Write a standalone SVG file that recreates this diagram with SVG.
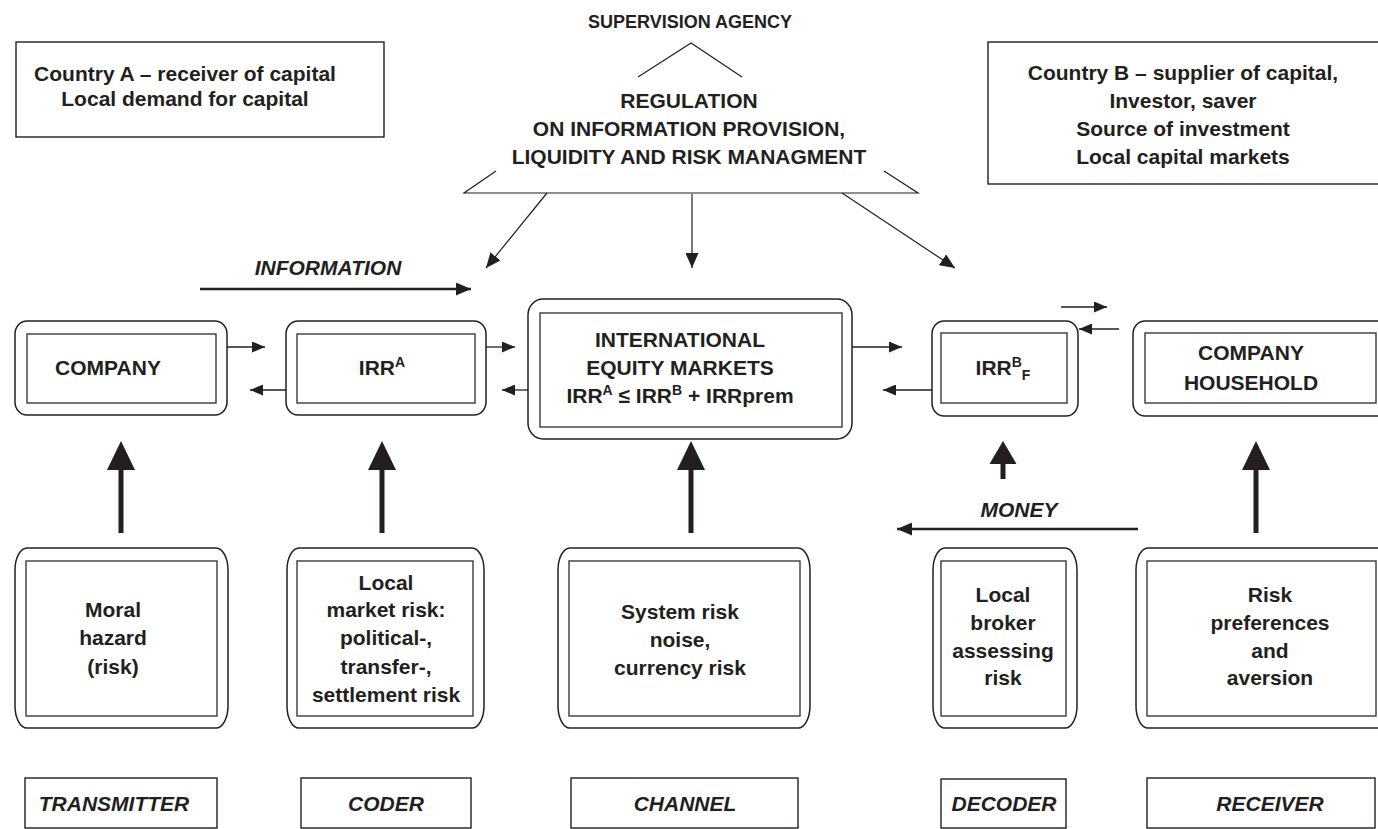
<svg xmlns="http://www.w3.org/2000/svg" width="1378" height="829" viewBox="0 0 1378 829">
<defs>
<style>
text{font-family:"Liberation Sans",Arial,sans-serif;font-weight:bold;font-size:21px;fill:#231f20;text-anchor:middle}
.it{font-style:italic}
.box{fill:none;stroke:#231f20;stroke-width:1.4}
.outer{fill:#fff;stroke:#231f20;stroke-width:1.5}
.inner{fill:none;stroke:#3a3a3a;stroke-width:1.4}
.ln{fill:none;stroke:#231f20;stroke-width:1.3}
.thin{fill:none;stroke:#231f20;stroke-width:1.2}
.bold{fill:none;stroke:#231f20;stroke-width:2.6}
.big{fill:#231f20;stroke:none}
</style>
<marker id="ah" markerUnits="userSpaceOnUse" markerWidth="13" markerHeight="11" refX="13" refY="5.5" orient="auto"><path d="M0,0 L13,5.5 L0,11 z" fill="#231f20"/></marker>
<marker id="ahL" markerUnits="userSpaceOnUse" markerWidth="15" markerHeight="13" refX="15" refY="6.5" orient="auto"><path d="M0,0 L15,6.5 L0,13 z" fill="#231f20"/></marker>
</defs>
<rect width="1378" height="829" fill="#fff"/>

<g id="countryA">
<rect class="box" x="16" y="42" width="368" height="95"/>
<text x="185" y="81">Country A – receiver of capital</text>
<text x="185" y="106">Local demand for capital</text>
</g>

<g id="countryB">
<rect class="box" x="988" y="42" width="400" height="142"/>
<text x="1183" y="80">Country B – supplier of capital,</text>
<text x="1183" y="108">Investor, saver</text>
<text x="1183" y="136">Source of investment</text>
<text x="1183" y="164">Local capital markets</text>
</g>

<g id="supervision">
<text x="690" y="28" style="font-size:18px">SUPERVISION AGENCY</text>
<path class="thin" d="M638,77 L691,43 L742,77"/>
<path class="thin" d="M496,171 L464,193 L918,193 L884,171"/>
<text x="689" y="108">REGULATION</text>
<text x="689" y="136">ON INFORMATION PROVISION,</text>
<text x="689" y="164">LIQUIDITY AND RISK MANAGMENT</text>
</g>

<g id="company">
<rect class="outer" x="15" y="321" width="212" height="94" rx="12" ry="13"/>
<rect class="inner" x="27" y="334" width="189" height="69"/>
<text x="108" y="375">COMPANY</text>
</g>

<g id="irrA">
<rect class="outer" x="286" y="321" width="200" height="94" rx="12" ry="13"/>
<rect class="inner" x="297" y="334" width="178" height="69"/>
<text x="382" y="375">IRR<tspan dy="-8" style="font-size:14px">A</tspan></text>
</g>

<g id="iem">
<rect class="outer" x="528" y="299" width="324" height="140" rx="15" ry="16"/>
<rect class="inner" x="540" y="313" width="302" height="114"/>
<text x="680" y="347">INTERNATIONAL</text>
<text x="680" y="375">EQUITY MARKETS</text>
<text x="680" y="403">IRR<tspan dy="-8" style="font-size:14px">A</tspan><tspan dy="8"> ≤ IRR</tspan><tspan dy="-8" style="font-size:14px">B</tspan><tspan dy="8"> + IRRprem</tspan></text>
</g>

<g id="irrB">
<rect class="outer" x="932" y="321" width="146" height="95" rx="12" ry="13"/>
<rect class="inner" x="941" y="333" width="126" height="70"/>
<text x="1003" y="375">IRR<tspan dy="-8" style="font-size:14px">B</tspan><tspan dy="13" style="font-size:14px">F</tspan></text>
</g>

<g id="household">
<rect class="outer" x="1133" y="321" width="260" height="95" rx="12" ry="13"/>
<rect class="inner" x="1145" y="333" width="231" height="70"/>
<text x="1251" y="360">COMPANY</text>
<text x="1251" y="390">HOUSEHOLD</text>
</g>

<g id="moral">
<rect class="outer" x="15" y="548" width="213" height="180" rx="12" ry="22"/>
<rect class="inner" x="26" y="561" width="191" height="155"/>
<text x="113" y="617">Moral</text>
<text x="113" y="645">hazard</text>
<text x="113" y="674">(risk)</text>
</g>

<g id="localmarket">
<rect class="outer" x="287" y="548" width="197" height="180" rx="12" ry="22"/>
<rect class="inner" x="297" y="561" width="176" height="155"/>
<text x="386" y="590">Local</text>
<text x="386" y="617">market risk:</text>
<text x="386" y="645">political-,</text>
<text x="386" y="674">transfer-,</text>
<text x="386" y="702">settlement risk</text>
</g>

<g id="systemrisk">
<rect class="outer" x="558" y="548" width="252" height="180" rx="12" ry="22"/>
<rect class="inner" x="569" y="561" width="231" height="155"/>
<text x="680" y="619">System risk</text>
<text x="680" y="647">noise,</text>
<text x="680" y="675">currency risk</text>
</g>

<g id="broker">
<rect class="outer" x="933" y="548" width="144" height="180" rx="12" ry="22"/>
<rect class="inner" x="941" y="561" width="125" height="155"/>
<text x="1003" y="602">Local</text>
<text x="1003" y="630">broker</text>
<text x="1003" y="658">assessing</text>
<text x="1003" y="685">risk</text>
</g>

<g id="riskpref">
<rect class="outer" x="1136" y="548" width="260" height="180" rx="12" ry="22"/>
<rect class="inner" x="1147" y="561" width="229" height="155"/>
<text x="1270" y="602">Risk</text>
<text x="1270" y="630">preferences</text>
<text x="1270" y="658">and</text>
<text x="1270" y="685">aversion</text>
</g>

<g id="transmitter">
<rect class="box" x="25" y="778" width="192" height="50"/>
<text class="it" x="114" y="811">TRANSMITTER</text>
</g>
<g id="coder">
<rect class="box" x="301" y="778" width="170" height="50"/>
<text class="it" x="386" y="811">CODER</text>
</g>
<g id="channel">
<rect class="box" x="571" y="778" width="227" height="50"/>
<text class="it" x="685" y="811">CHANNEL</text>
</g>
<g id="decoder">
<rect class="box" x="941" y="779" width="125" height="49"/>
<text class="it" x="1004" y="811">DECODER</text>
</g>
<g id="receiver">
<rect class="box" x="1147" y="778" width="228" height="50"/>
<text class="it" x="1270" y="811">RECEIVER</text>
</g>

<g id="connectors">
<line class="thin" x1="547" y1="193" x2="486" y2="268" marker-end="url(#ahL)"/>
<line class="thin" x1="692" y1="194" x2="692" y2="268" marker-end="url(#ahL)"/>
<line class="thin" x1="842" y1="193" x2="955" y2="268" marker-end="url(#ahL)"/>

<text class="it" x="328" y="275">INFORMATION</text>
<line class="bold" x1="200" y1="289" x2="471" y2="289" marker-end="url(#ahL)"/>
<text class="it" x="1019" y="517">MONEY</text>
<line class="bold" x1="1138" y1="529" x2="897" y2="529" marker-end="url(#ahL)"/>

<line class="ln" x1="227" y1="347" x2="265" y2="347" marker-end="url(#ah)"/>
<line class="ln" x1="286" y1="390" x2="250" y2="390" marker-end="url(#ah)"/>
<line class="ln" x1="486" y1="347" x2="515" y2="347" marker-end="url(#ah)"/>
<line class="ln" x1="528" y1="390" x2="502" y2="390" marker-end="url(#ah)"/>
<line class="ln" x1="852" y1="347" x2="902" y2="347" marker-end="url(#ah)"/>
<line class="ln" x1="932" y1="390" x2="883" y2="390" marker-end="url(#ah)"/>
<line class="ln" x1="1061" y1="307" x2="1107" y2="307" marker-end="url(#ah)"/>
<line class="ln" x1="1119" y1="329" x2="1079" y2="329" marker-end="url(#ah)"/>

<path class="big" d="M121,441 L135,470 L123.5,470 L123.5,533 L118.5,533 L118.5,470 L107,470 z"/>
<path class="big" d="M382,441 L396,470 L384.5,470 L384.5,533 L379.5,533 L379.5,470 L368,470 z"/>
<path class="big" d="M691,441 L705,470 L693.5,470 L693.5,533 L688.5,533 L688.5,470 L677,470 z"/>
<path class="big" d="M1003,441 L1016.5,464 L1005.5,464 L1005.5,479 L1000.5,479 L1000.5,464 L989.5,464 z"/>
<path class="big" d="M1256,441 L1270,470 L1258.5,470 L1258.5,533 L1253.5,533 L1253.5,470 L1242,470 z"/>
</g>
</svg>
